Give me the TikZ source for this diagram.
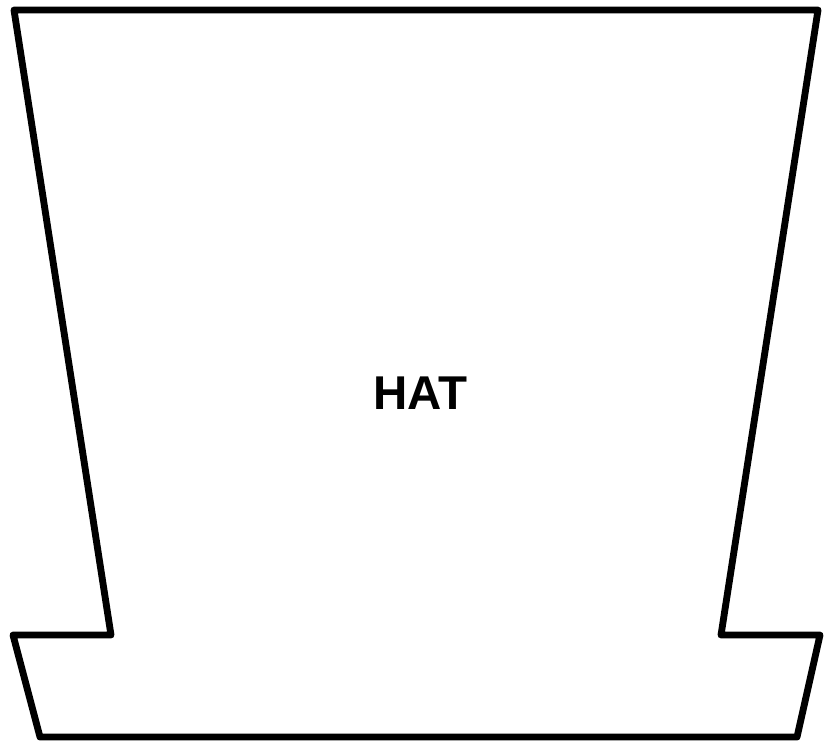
\documentclass[tikz,border=0pt]{standalone}
\usepackage{fontspec}
\setmainfont{Liberation Sans}
\usetikzlibrary{positioning}

\begin{document}
\begin{tikzpicture}[
  x=0.02cm, y=-0.02cm,
  outline/.style={draw=black, line width=3.9pt, line join=round},
  lbl/.style={font=\fontsize{27}{30}\selectfont\bfseries}
]
% ── Canvas ────────────────────────────────────────────────────
\useasboundingbox (0,0) rectangle (830,741);

% ── Crown and brim corners ────────────────────────────────────
\coordinate (tl) at (14,10);
\coordinate (tr) at (818,10);
\coordinate (ir) at (721,635);
\coordinate (br) at (820,635);
\coordinate (bbr) at (797,737);
\coordinate (bbl) at (40,737);
\coordinate (bl) at (13,635);
\coordinate (il) at (111,635);

% ── Outline ───────────────────────────────────────────────────
\draw[outline] (tl) -- (tr) -- (ir) -- (br) -- (bbr) -- (bbl)
  -- (bl) -- (il) -- cycle;

% ── Label ─────────────────────────────────────────────────────
\node[lbl] (hat) at (420,393) {HAT};
\end{tikzpicture}
\end{document}
